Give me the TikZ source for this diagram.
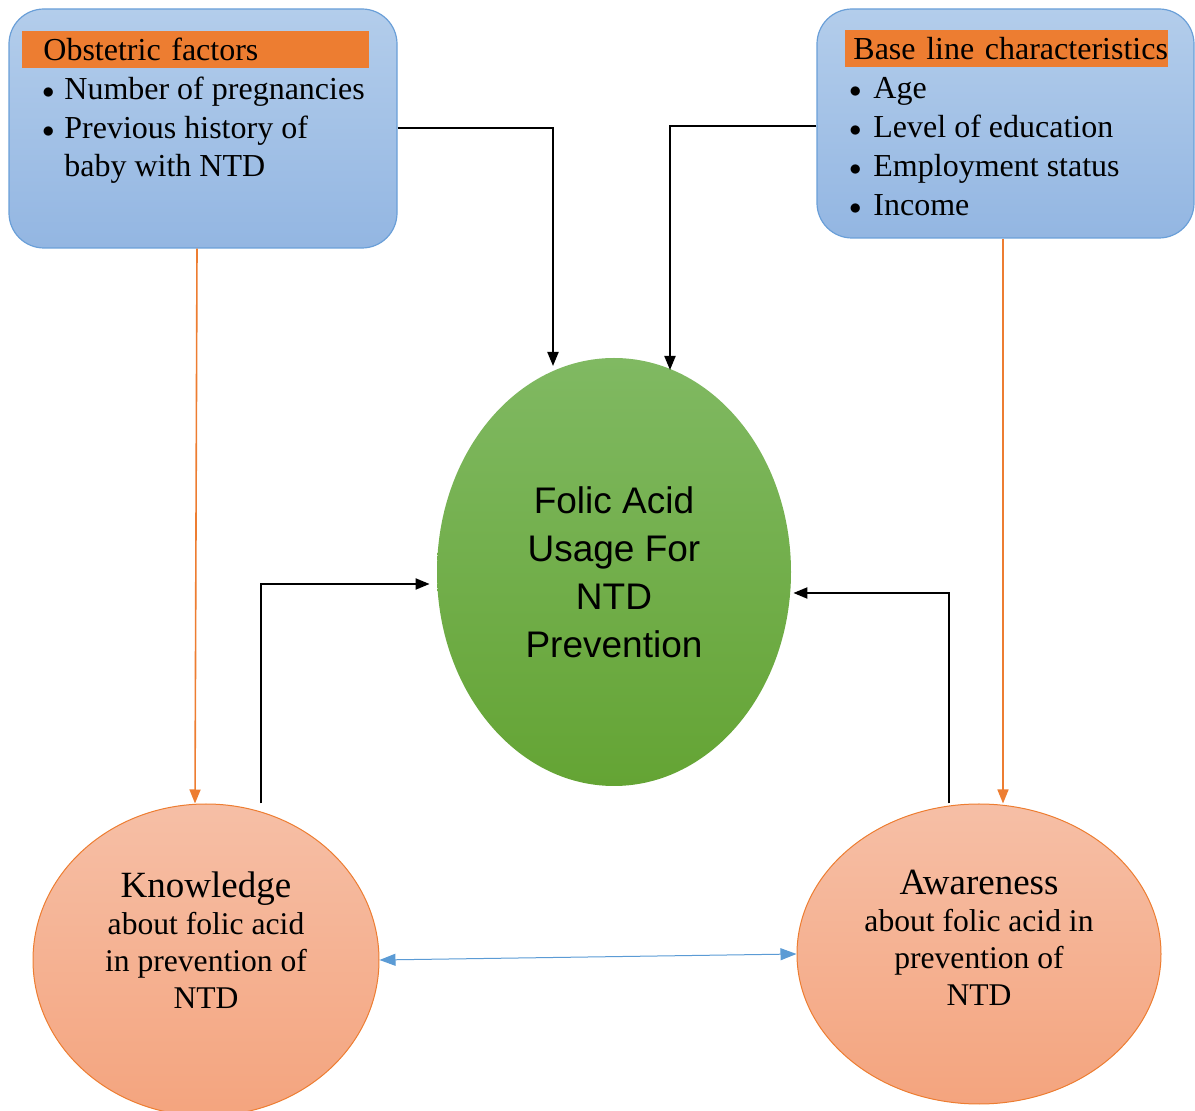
\documentclass[tikz,border=0pt]{standalone}
\usepackage{fontspec}
\setmainfont{Liberation Serif}
\newfontfamily\arialfont{Liberation Sans}
\usetikzlibrary{shapes.geometric,arrows.meta,positioning}
\definecolor{boxtop}{HTML}{B3CDEB}
\definecolor{boxbot}{HTML}{93B6E2}
\definecolor{boxline}{HTML}{6A9FD8}
\definecolor{headorange}{HTML}{ED7D31}
\definecolor{greentop}{HTML}{80B962}
\definecolor{greenbot}{HTML}{64A434}
\definecolor{salmontop}{HTML}{F6BFA6}
\definecolor{salmonbot}{HTML}{F4A47E}
\definecolor{linkblue}{HTML}{5B9BD5}
\newcommand{\bul}[1]{\makebox[#1][l]{\raisebox{0.6pt}{\fontsize{13}{13}\selectfont$\bullet$}}}
\begin{document}
\begin{tikzpicture}[x=0.5pt,y=-0.5pt]
    \tikzstyle{factorbox}=[draw=boxline, line width=0.6pt, rounded corners=17.5pt, top color=boxtop, bottom color=boxbot, inner sep=0pt];
    \tikzstyle{headbox}=[fill=headorange, inner ysep=0pt, inner xsep=0pt, minimum height=18.5pt, anchor=west, align=left, font=\fontsize{16}{19}\selectfont];
    \tikzstyle{listtext}=[anchor=base west, inner sep=0pt, align=left, font=\fontsize{16}{19.3}\selectfont];
    \tikzstyle{outcome}=[draw=none, ellipse, top color=greentop, bottom color=greenbot, inner sep=0pt];
    \tikzstyle{factorcirc}=[draw=headorange, line width=0.5pt, ellipse, top color=salmontop, bottom color=salmonbot, inner sep=0pt];
    \tikzstyle{circtext}=[align=center, inner sep=0pt, font=\fontsize{15.8}{18.5}\selectfont];
    \tikzstyle{flow}=[draw, line width=1pt, -{Triangle[length=7pt,width=5.5pt]}];
    \tikzstyle{orangeflow}=[draw=headorange, line width=0.8pt, -{Triangle[length=7pt,width=5.5pt]}];
    \useasboundingbox (0,0) rectangle (1195,1111);
    \node[factorbox, minimum width=194pt, minimum height=119.5pt] (obst) at (203,128.5) {};
    \node[headbox, text width=173.5pt] (obsthead) at (22,49.5) {\hspace*{10.5pt}Obstetric factors};
    \node[listtext] (obstlist) at (42,177) {\bul{11pt}Number of pregnancies\\ \bul{11pt}Previous history of\\ \hspace*{11pt}baby with NTD};
    \node[factorbox, minimum width=188.5pt, minimum height=114.5pt] (base) at (1005.5,123.5) {};
    \node[headbox, text width=161.5pt] (basehead) at (845,49) {\hspace*{4pt}Base line characteristics};
    \node[listtext, font=\fontsize{16}{19.5}\selectfont] (baselist) at (849,216) {\bul{12pt}Age\\ \bul{12pt}Level of education\\ \bul{12pt}Employment status\\ \bul{12pt}Income};
    \node[outcome, minimum width=177pt, minimum height=214pt, align=center, font=\arialfont\fontsize{18.5}{24}\selectfont] (folic) at (614,572) {Folic Acid\\ Usage For\\ NTD\\ Prevention};
    \node[factorcirc, minimum width=173pt, minimum height=156pt] (know) at (206,960) {};
    \node[circtext] (knowtext) at (206,940) {{\fontsize{18.5}{18.5}\selectfont Knowledge}\\ about folic acid\\ in prevention of\\ NTD};
    \node[factorcirc, minimum width=182pt, minimum height=150pt] (aware) at (979,954) {};
    \node[circtext] (awaretext) at (979,938) {{\fontsize{18.5}{18.5}\selectfont Awareness}\\ about folic acid in\\ prevention of\\ NTD};
    \coordinate (fin1) at (553,366);
    \coordinate (fin2) at (670,370);
    \draw[flow] (obst.east) -| (fin1);
    \draw[flow] ([yshift=-1.25pt]base.west) -| (fin2);
    \draw[flow, shorten >=3.5pt] ([xshift=27.5pt]know.north) |- ([yshift=-6pt]folic.west);
    \draw[flow, shorten >=1pt] ([xshift=-15pt]aware.north) |- ([yshift=-10.5pt]folic.east);
    \draw[orangeflow] ([xshift=-3pt]obst.south) -- ([xshift=-5.5pt]know.north);
    \draw[orangeflow] ([xshift=-1.25pt]base.south) -- ([xshift=12pt]aware.north);
    \draw[linkblue, line width=0.5pt, {Triangle[length=8pt,width=6pt]}-{Triangle[length=8pt,width=6pt]}] (know.east) -- (aware.west);
\end{tikzpicture}
\end{document}
